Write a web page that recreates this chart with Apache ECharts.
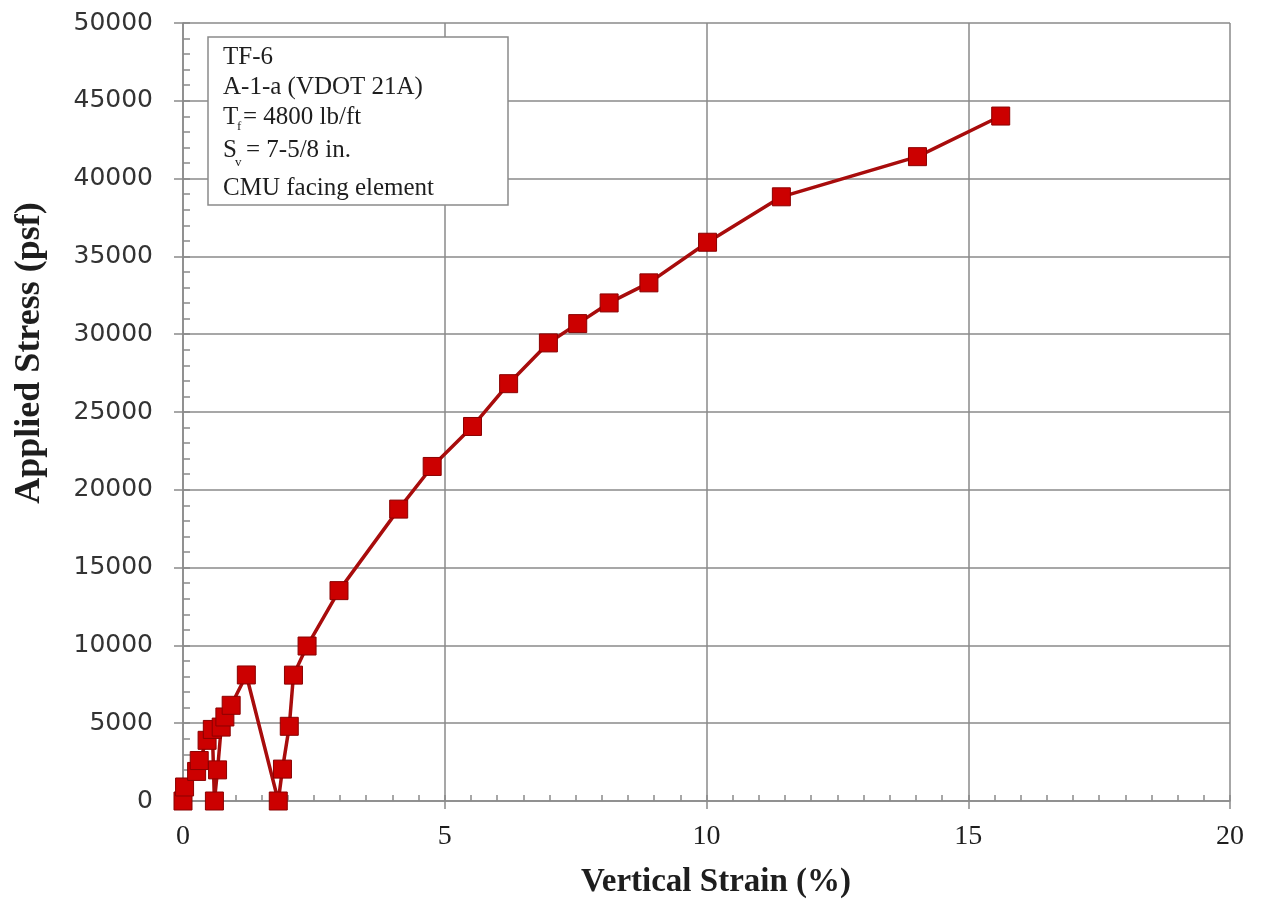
<!DOCTYPE html>
<html>
<head>
<meta charset="utf-8">
<script src="https://cdn.jsdelivr.net/npm/echarts@6/dist/echarts.min.js"></script>
<style>
html,body{margin:0;padding:0;background:#fff;}
#chart{width:1263px;height:907px;}
</style>
</head>
<body>
<div id="chart"></div>
<script>
// Vertical strain (%) and applied stress (psf)
const strain = [0, 0.03, 0.26, 0.31, 0.46, 0.56, 0.60, 0.66, 0.73, 0.80, 0.92, 1.21,
                1.82, 1.90, 2.03, 2.11, 2.37, 2.98, 4.12, 4.76, 5.53, 6.22, 6.98, 7.54,
                8.14, 8.90, 10.02, 11.43, 14.03, 15.62];
const stress = [0, 900, 1900, 2600, 3900, 4600, 0, 2000, 4750, 5400, 6150, 8100,
                0, 2050, 4800, 8090, 9960, 13520, 18760, 21500, 24070, 26820, 29440, 30680,
                32010, 33300, 35910, 38830, 41410, 44020];
const xRange = [0, 20, 5];
const yRange = [0, 50000, 5000];
const noteLines = ['TF-6', 'A-1-a (VDOT 21A)'];
const noteTf = ['T', 'f', '= 4800 lb/ft'];
const noteSv = ['S', 'v', '= 7-5/8 in.'];
const noteLast = 'CMU facing element';
const xTitle = 'Vertical Strain (%)';
const yTitle = 'Applied Stress (psf)';

const gridCol = '#8a8a8a';
const serif = '"Liberation Serif", "Times New Roman", serif';
const textCol = '#1e1e1e';

const chart = echarts.init(document.getElementById('chart'), null, {renderer: 'canvas'});

const pts = strain.map((s, i) => [s, stress[i]]);

const noteFont = {fontFamily: serif, fontSize: 25, fill: textCol, textVerticalAlign: 'middle'};
const subFont = {fontFamily: serif, fontSize: 13, fill: textCol, textVerticalAlign: 'middle'};

const option = {
  animation: false,
  backgroundColor: '#ffffff',
  grid: {left: 183, right: 33, top: 23, bottom: 106, containLabel: false},
  xAxis: [
    {
      type: 'value', min: xRange[0], max: xRange[1], interval: xRange[2],
      position: 'bottom',
      axisLine: {show: true, lineStyle: {color: gridCol, width: 1.5}},
      axisTick: {show: true, inside: false, length: 8, lineStyle: {color: gridCol, width: 1.5}},
      axisLabel: {margin: 22, fontFamily: serif, fontSize: 28, color: textCol},
      splitLine: {show: true, lineStyle: {color: gridCol, width: 1.5}}
    },
    {
      type: 'value', min: xRange[0], max: xRange[1], interval: 0.5,
      position: 'bottom',
      axisLine: {show: false},
      axisTick: {show: true, inside: true, length: 6, lineStyle: {color: gridCol, width: 1.5}},
      axisLabel: {show: false},
      splitLine: {show: false}
    }
  ],
  yAxis: [
    {
      type: 'value', min: yRange[0], max: yRange[1], interval: yRange[2],
      position: 'left',
      axisLine: {show: true, lineStyle: {color: gridCol, width: 1.5}},
      axisTick: {show: true, inside: false, length: 9, lineStyle: {color: gridCol, width: 1.5}},
      axisLabel: {margin: 30, fontFamily: '"DejaVu Sans", sans-serif', fontSize: 25, color: '#333333',
                  formatter: v => String(v)},
      splitLine: {show: true, lineStyle: {color: gridCol, width: 1.5}}
    },
    {
      type: 'value', min: yRange[0], max: yRange[1], interval: 1000,
      position: 'left',
      axisLine: {show: false},
      axisTick: {show: true, inside: true, length: 7, lineStyle: {color: gridCol, width: 1.5}},
      axisLabel: {show: false},
      splitLine: {show: false}
    }
  ],
  series: [{
    type: 'line',
    xAxisIndex: 0, yAxisIndex: 0,
    data: pts,
    symbol: 'rect',
    symbolSize: 18,
    showAllSymbol: true,
    lineStyle: {color: '#a80c0c', width: 3.5},
    itemStyle: {color: '#cc0000', borderColor: '#8a0000', borderWidth: 1},
    z: 5
  }],
  graphic: [
    {
      type: 'rect', z: 10,
      shape: {x: 208, y: 37, width: 300, height: 168},
      style: {fill: '#ffffff', stroke: gridCol, lineWidth: 1.5}
    },
    {type: 'text', z: 11, x: 223, y: 57, style: Object.assign({text: noteLines[0]}, noteFont)},
    {type: 'text', z: 11, x: 223, y: 87, style: Object.assign({text: noteLines[1]}, noteFont)},
    {type: 'text', z: 11, x: 223, y: 117, style: Object.assign({text: noteTf[0]}, noteFont)},
    {type: 'text', z: 11, x: 237, y: 127, style: Object.assign({text: noteTf[1]}, subFont)},
    {type: 'text', z: 11, x: 243, y: 117, style: Object.assign({text: noteTf[2]}, noteFont)},
    {type: 'text', z: 11, x: 223, y: 150, style: Object.assign({text: noteSv[0]}, noteFont)},
    {type: 'text', z: 11, x: 235, y: 163, style: Object.assign({text: noteSv[1]}, subFont)},
    {type: 'text', z: 11, x: 246, y: 150, style: Object.assign({text: noteSv[2]}, noteFont)},
    {type: 'text', z: 11, x: 223, y: 188, style: Object.assign({text: noteLast}, noteFont)},
    {
      type: 'text', z: 11, x: 716, y: 882,
      style: {text: xTitle, fontFamily: serif, fontSize: 33, fontWeight: 'bold', fill: textCol,
              textAlign: 'center', textVerticalAlign: 'middle'}
    },
    {
      type: 'text', z: 11, x: 30, y: 353, rotation: Math.PI / 2,
      style: {text: yTitle, fontFamily: serif, fontSize: 36, fontWeight: 'bold', fill: textCol,
              textAlign: 'center', textVerticalAlign: 'middle'}
    }
  ]
};

chart.setOption(option);
</script>
</body>
</html>
